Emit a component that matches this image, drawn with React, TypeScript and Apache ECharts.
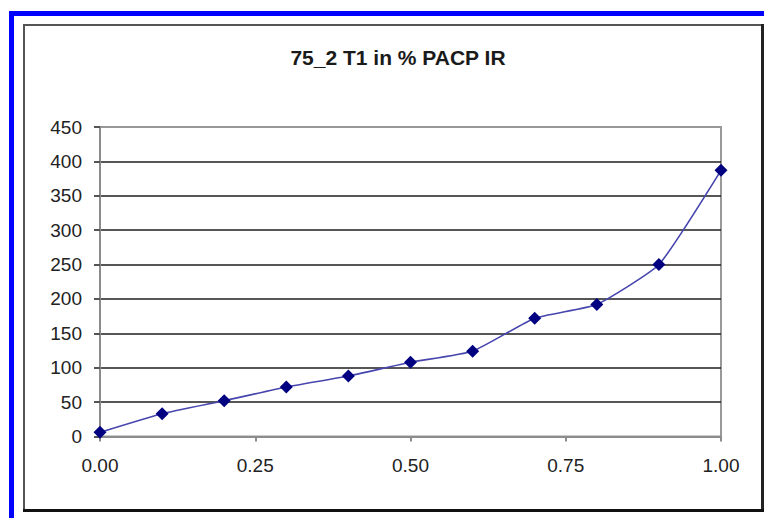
import React, { useEffect, useRef } from "react";
import * as echarts from "echarts";

const titleText = "75_2 T1 in % PACP IR";
const xValues = [0, 0.1, 0.2, 0.3, 0.4, 0.5, 0.6, 0.7, 0.8, 0.9, 1.0];
const yValues = [6, 33, 52, 72, 88, 108, 124, 172, 192, 250, 387];
const yTicks = [0, 50, 100, 150, 200, 250, 300, 350, 400, 450];
const xTicks = [0, 0.25, 0.5, 0.75, 1.0];

export default function App() {
  const ref = useRef<HTMLDivElement>(null);
  useEffect(() => {
    document.body.style.margin = "0";
    const chart = echarts.init(ref.current!, null, { renderer: "svg" });
    const font = "'Liberation Sans', Arial, sans-serif";
    const splitColors = yTicks.map((v, i) =>
      i === 0 || i === yTicks.length - 1 ? "#999999" : "#1e1e1e"
    );
    chart.setOption({
      animation: false,
      backgroundColor: "#ffffff",
      title: {
        text: titleText,
        left: 393,
        top: 42,
        textAlign: "center",
        textStyle: { fontFamily: font, fontSize: 21, fontWeight: "bold", color: "#1a1a1a" },
      },
      grid: {
        left: 100,
        right: 43,
        top: 127,
        bottom: 81.5,
        show: true,
        borderColor: "#999999",
        borderWidth: 2,
        backgroundColor: "#ffffff",
      },
      xAxis: {
        type: "value",
        min: xTicks[0],
        max: xTicks[xTicks.length - 1],
        interval: 0.25,
        axisLine: { show: true, lineStyle: { color: "#8c8c8c", width: 2 } },
        axisTick: { show: true, length: 5, lineStyle: { color: "#8c8c8c", width: 2 } },
        splitLine: { show: false },
        axisLabel: {
          margin: 19,
          fontFamily: font,
          fontSize: 19,
          color: "#222222",
          formatter: (v: number) => v.toFixed(2),
        },
      },
      yAxis: {
        type: "value",
        min: yTicks[0],
        max: yTicks[yTicks.length - 1],
        interval: 50,
        axisLine: { show: true, lineStyle: { color: "#8c8c8c", width: 2 } },
        axisTick: { show: true, length: 6, lineStyle: { color: "#555555", width: 2 } },
        splitLine: { show: true, lineStyle: { color: splitColors, width: 1.5 } },
        axisLabel: { margin: 18, fontFamily: font, fontSize: 19, color: "#222222" },
      },
      series: [
        {
          type: "line",
          data: xValues.map((x, i) => [x, yValues[i]]),
          smooth: 0.15,
          symbol: "diamond",
          symbolSize: [13, 13],
          itemStyle: { color: "#000080" },
          lineStyle: { color: "#4646ae", width: 1.6 },
          z: 5,
        },
      ],
      graphic: [
        { type: "rect", shape: { x: 9, y: 11, width: 5, height: 507 }, style: { fill: "#0000ff" } },
        { type: "rect", shape: { x: 9, y: 11, width: 755, height: 5 }, style: { fill: "#0000ff" } },
        { type: "rect", shape: { x: 23, y: 24, width: 2, height: 487 }, style: { fill: "#555555" } },
        { type: "rect", shape: { x: 23, y: 24, width: 741, height: 2 }, style: { fill: "#555555" } },
        { type: "rect", shape: { x: 761, y: 24, width: 3, height: 488 }, style: { fill: "#222222" } },
        { type: "rect", shape: { x: 23, y: 509, width: 741, height: 3 }, style: { fill: "#111111" } },
      ],
    });
    return () => chart.dispose();
  }, []);
  return (
    <div
      ref={ref}
      style={{ position: "fixed", left: 0, top: 0, width: 764, height: 518 }}
    />
  );
}
